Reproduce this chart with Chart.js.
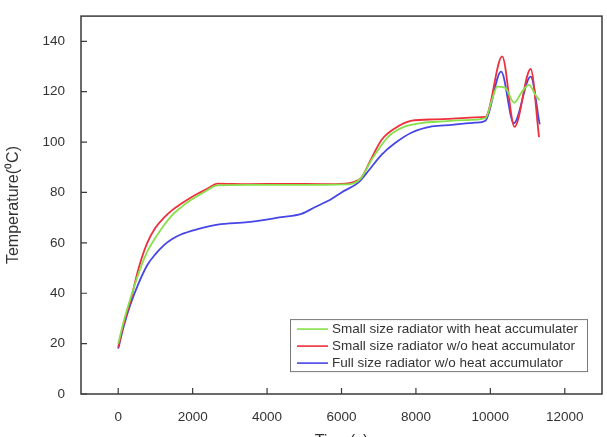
<!DOCTYPE html>
<html>
<head>
<meta charset="utf-8">
<script src="https://cdn.jsdelivr.net/npm/chart.js@4/dist/chart.umd.min.js"></script>
<style>
  html, body { margin: 0; padding: 0; background: #fff; overflow: hidden; }
  #wrap { width: 607px; height: 455px; }
</style>
</head>
<body>
<div id="wrap"><canvas id="chart"></canvas></div>
<script>
// Small size radiator with heat accumulater (green)
const greenTime = [0, 150, 330, 550, 780, 1000, 1230, 1450, 1680, 1900, 2130, 2400, 2670, 3500, 5000, 6100, 6300, 6540, 6810, 7260, 7710, 8160, 8700, 9300, 9870, 10050, 10183, 10400, 10640, 10850, 11040, 11200, 11320];
const greenTemp = [20, 29, 38, 48, 56.5, 62, 67, 71, 74, 76.5, 78.6, 81, 82.8, 83, 83, 83.2, 83.5, 86, 93, 102.2, 106.2, 107.6, 108.2, 108.7, 109.5, 117, 122, 121.5, 115.6, 120, 122.7, 119, 116.6];

// Small size radiator w/o heat accumulator (red)
const redTime = [0, 150, 330, 550, 780, 1000, 1230, 1450, 1680, 1900, 2130, 2400, 2670, 3500, 4500, 5500, 6100, 6300, 6540, 6810, 7080, 7440, 7890, 8500, 9000, 9600, 9870, 10318, 10650, 11083, 11308];
const redTemp = [18.5, 28, 37, 50, 60, 66, 70, 73, 75.4, 77.5, 79.5, 81.5, 83.5, 83.3, 83.4, 83.3, 83.5, 84, 86, 93.7, 100.9, 105.5, 108.5, 109, 109.3, 109.8, 110, 134, 106, 129, 102];

// Full size radiator w/o heat accumulator (blue)
const blueTime = [0, 150, 330, 550, 782, 1000, 1231, 1450, 1682, 2132, 2672, 3482, 4380, 4920, 5280, 5730, 6000, 6450, 6720, 7080, 7440, 7890, 8430, 8970, 9600, 9870, 10290, 10630, 11083, 11325];
const blueTemp = [18, 27, 35.6, 44, 51.2, 55.5, 59.1, 61.5, 63.3, 65.4, 67.2, 68.2, 70.2, 71.5, 74.1, 77.4, 80, 83.9, 88.5, 95, 99.6, 103.8, 106.2, 106.8, 107.7, 108.5, 128, 107.5, 126, 107];

const seriesLabels = [
  "Small size radiator with heat accumulater",
  "Small size radiator w/o heat accumulator",
  "Full size radiator w/o heat accumulator"
];
const xTicks = [0, 2000, 4000, 6000, 8000, 10000, 12000];
const yTicks = [0, 20, 40, 60, 80, 100, 120, 140];

const colors = ["#86e04a", "#ee2f3c", "#4646e6"];

function pts(xs, ys) {
  return xs.map((x, i) => ({ x: x, y: ys[i] }));
}

// frame box, inward ticks, legend box
const framePlugin = {
  id: "frame",
  afterDraw(chart) {
    const ctx = chart.ctx;
    const a = chart.chartArea;
    const xs = chart.scales.x, ys = chart.scales.y;
    ctx.save();
    ctx.strokeStyle = "#3a3a3a";
    ctx.lineWidth = 1.5;
    ctx.strokeRect(a.left, a.top, a.right - a.left, a.bottom - a.top);
    ctx.lineWidth = 1.2;
    ctx.beginPath();
    xTicks.forEach(v => {
      const p = xs.getPixelForValue(v);
      ctx.moveTo(p, a.bottom); ctx.lineTo(p, a.bottom - 6);
    });
    yTicks.forEach(v => {
      const p = ys.getPixelForValue(v);
      ctx.moveTo(a.left, p); ctx.lineTo(a.left + 6, p);
    });
    ctx.stroke();

    // legend
    const lx = a.left + 209, ly = a.top + 303, lw = 297, lh = 52;
    ctx.fillStyle = "#fff";
    ctx.fillRect(lx, ly, lw, lh);
    ctx.strokeStyle = "#777";
    ctx.lineWidth = 1;
    ctx.strokeRect(lx + 0.5, ly + 0.5, lw, lh);
    ctx.font = "13.5px 'Liberation Sans', Arial, sans-serif";
    ctx.textBaseline = "middle";
    seriesLabels.forEach((t, i) => {
      const yy = ly + 10 + i * 17;
      ctx.strokeStyle = colors[i];
      ctx.lineWidth = 1.6;
      ctx.beginPath();
      ctx.moveTo(lx + 7, yy); ctx.lineTo(lx + 38, yy);
      ctx.stroke();
      ctx.fillStyle = "#333";
      ctx.fillText(t, lx + 42, yy + 0.5);
    });
    ctx.restore();
  }
};

const font = { family: "'Liberation Sans', Arial, sans-serif", size: 13.5 };

new Chart(document.getElementById("chart"), {
  type: "line",
  data: {
    datasets: [
      { label: seriesLabels[0], data: pts(greenTime, greenTemp), borderColor: colors[0] },
      { label: seriesLabels[1], data: pts(redTime, redTemp), borderColor: colors[1] },
      { label: seriesLabels[2], data: pts(blueTime, blueTemp), borderColor: colors[2] }
    ].map(d => Object.assign(d, { borderWidth: 1.8, pointRadius: 0, cubicInterpolationMode: "monotone", fill: false }))
  },
  options: {
    responsive: true,
    maintainAspectRatio: false,
    animation: false,
    layout: { padding: { top: 12, right: 5, left: 0, bottom: 0 } },
    plugins: { legend: { display: false }, tooltip: { enabled: false } },
    scales: {
      x: {
        type: "linear",
        min: -1000, max: 13000,
        afterBuildTicks(s) { s.ticks = xTicks.map(v => ({ value: v })); },
        afterFit(s) { s.height = 61; },
        grid: { display: false },
        border: { display: false },
        ticks: { font: font, color: "#333", padding: 7, callback: v => String(v) },
        title: { display: true, text: "Time(s)", font: { family: font.family, size: 16 }, color: "#333", padding: { top: 8 } }
      },
      y: {
        min: 0, max: 150,
        afterBuildTicks(s) { s.ticks = yTicks.map(v => ({ value: v })); },
        afterFit(s) { s.width = 81; },
        grid: { display: false },
        border: { display: false },
        ticks: { font: font, color: "#333", padding: 8, callback: v => String(v) },
        title: { display: true, text: "Temperature(\u2070C)", font: { family: font.family, size: 16 }, color: "#333", padding: { top: 4, bottom: 2 } }
      }
    }
  },
  plugins: [framePlugin]
});
</script>
</body>
</html>
